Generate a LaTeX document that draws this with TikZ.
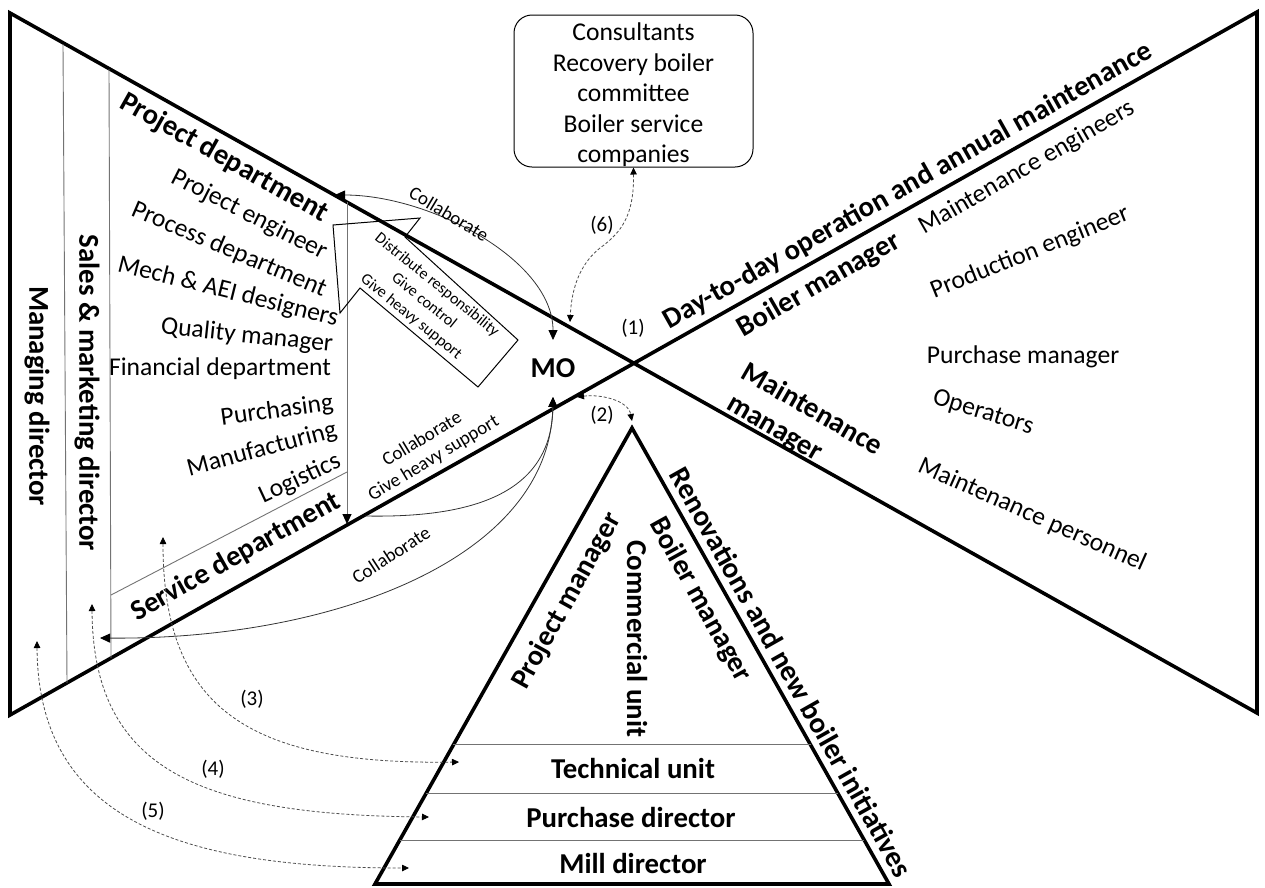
\documentclass[tikz,border=0pt]{standalone}
\usepackage{fontspec}
\setmainfont{Carlito}
\usetikzlibrary{arrows.meta,calc}
\newcommand\fsbold{\fontsize{28.8}{34}\selectfont\bfseries}
\newcommand\fsbig{\fontsize{29.3}{35}\selectfont\bfseries}
\newcommand\fsreg{\fontsize{25.6}{30.5}\selectfont}
\newcommand\fssmall{\fontsize{19}{22}\selectfont}
\newcommand\fstiny{\fontsize{16}{20.4}\selectfont}
\newcommand\fsnum{\fontsize{21}{25}\selectfont}
\begin{document}
\begin{tikzpicture}[x=1pt,y=-1pt,
  heavy/.style={line width=3.6pt, line join=miter},
  thinline/.style={line width=0.9pt, draw=black!55},
  link/.style={line width=0.8pt, draw=black!80},
  tip/.style={-{Triangle[length=10pt,width=9pt,color=black]}},
  dtip/.style={{Triangle[length=10pt,width=9pt,color=black]}-{Triangle[length=10pt,width=9pt,color=black]}},
  dashlink/.style={line width=0.8pt, draw=black!70, dash pattern=on 3pt off 2pt,
    {Triangle[length=7pt,width=6.5pt,color=black]}-{Triangle[length=7pt,width=6.5pt,color=black]}},
  lbl/.style={inner sep=0pt},
  head/.style={lbl, font=\fsbold},
  item/.style={lbl, font=\fsreg},
  note/.style={lbl, font=\fssmall},
  num/.style={lbl, font=\fsnum}]
\useasboundingbox (0,0) rectangle (1265,887);

% ---- bow-tie frame ----
\coordinate (TL) at (10,13);
\coordinate (BL) at (10,715);
\coordinate (TR) at (1257,12);
\coordinate (BR) at (1257,713);
\draw[heavy] (TR) -- (BL) -- (TL) -- (BR) -- cycle;

% ---- left columns ----
\draw[thinline] (63,44) -- (67,683);
\draw[thinline] (109,69) -- (111,658);
\draw[thinline] (111,595) -- (347,472);
\coordinate (pdA) at (347,202);
\coordinate (sdB) at (347,524);
\draw[thinline, tip] (pdA) -- (sdB);

\node[head, rotate=-90] (md) at (37,396) {Managing director};
\node[head, rotate=-90] (smd) at (87,393) {Sales \& marketing director};
\node[head, rotate=-29.3] (pd) at (224,158) {Project department};
\node[item, rotate=-27] (pe) at (249,215) {Project engineer};
\node[item, rotate=-23] (prd) at (229,250) {Process department};
\node[item, rotate=-14] (mech) at (228,292) {Mech \& AEI designers};
\node[item, rotate=-6] (qm) at (247,336) {Quality manager};
\node[item] (fin) at (220,369) {Financial department};
\node[item, rotate=8] (pur) at (277,411) {Purchasing};
\node[item, rotate=15] (man) at (262,450) {Manufacturing};
\node[item, rotate=25] (log) at (300,479) {Logistics};
\node[head, rotate=29.4] (sd) at (236,557) {Service department};

% ---- right side ----
\node[head, rotate=29.4] (dd) at (908,186) {Day-to-day operation and annual maintenance};
\node[head, rotate=30] (bm) at (819,285) {Boiler manager};
\node[head, rotate=-30] (mm1) at (813,408) {Maintenance};
\node[head, rotate=-30] (mm2) at (773,431) {manager};
\node[item, rotate=30] (me) at (1027,168) {Maintenance engineers};
\node[item, rotate=22] (pen) at (1030,253) {Production engineer};
\node[item] (pm) at (1023,357) {Purchase manager};
\node[item, rotate=-17] (op) at (983,413) {Operators};
\node[item, rotate=-24] (mp) at (1032,515) {Maintenance personnel};

% ---- centre ----
\node[head] (mo) at (553,368) {MO};
\node[num] (n1) at (633,328) {(1)};
\node[draw, line width=1pt, rounded corners=18pt, minimum width=239pt, minimum height=152pt,
  inner sep=0pt] (ext) at (633.5,91) {};
\node[lbl, align=center, font=\fsreg] (extxt) at (633.5,95)
  {Consultants\\Recovery boiler\\committee\\Boiler service\\companies};

% hollow block arrow with its duties
\draw[line width=1pt, line join=miter] (333,225) -- (420,218) -- (405,237) -- (518,340)
  -- (478,387) -- (360,288) -- (340,313) -- cycle;
\node[lbl, font=\fstiny, align=center, rotate=-39] (duty) at (424,301)
  {Distribute responsibility\\Give control\\Give heavy support};

% ---- triangle ----
\coordinate (apex) at (632,428);
\coordinate (tbl) at (375,884);
\coordinate (tbr) at (889,884);
\draw[heavy] (apex) -- (tbl) -- (tbr) -- cycle;
\draw[thinline] ($(apex)!0.695!(tbl)$) -- ($(apex)!0.695!(tbr)$);
\draw[thinline] ($(apex)!0.8004!(tbl)$) -- ($(apex)!0.8004!(tbr)$);
\draw[thinline] ($(apex)!0.9035!(tbl)$) -- ($(apex)!0.9035!(tbr)$);
\node[head] (tu) at (633,768) {Technical unit};
\node[head] (pdir) at (631,817) {Purchase director};
\node[head] (mdir) at (633,863) {Mill director};
\node[head, rotate=61] (prm) at (567,601) {Project manager};
\node[head, rotate=-90] (cu) at (637,639) {Commercial unit};
\node[head, rotate=-61] (tbm) at (700,600) {Boiler manager};
\node[lbl, font=\fsbig, rotate=-60.6] (ren) at (791,672) {Renovations and new boiler initiatives};

% ---- relations around MO ----
\coordinate (moN) at (553,340);
\coordinate (moS) at (553,397);
\coordinate (pdEnd) at (335,195);
\coordinate (sdEnd) at (365,516);
\coordinate (smEnd) at (100,638);
\draw[link, dtip] (moN) .. controls (553,260) and (430,195) .. (pdEnd);
\node[note, rotate=-31] (c1) at (449,214) {Collaborate};
\draw[link, tip] (sdEnd) .. controls (470,518) and (552,495) .. (moS);
\node[note, rotate=31, align=center] (c2) at (428,449) {Collaborate\\Give heavy support};
\draw[link, dtip] (moS) .. controls (550,560) and (330,640) .. (smEnd);
\node[note, rotate=33] (c3) at (391,555) {Collaborate};

% ---- dashed interfaces ----
\coordinate (l6) at (570,322);
\draw[dashlink] (ext.south) .. controls (634,215) and (622,232) .. (600,248)
  .. controls (585,260) and (572,280) .. (l6);
\node[num] (n6) at (602,225) {(6)};
\coordinate (l2) at (577,397);
\coordinate (a2) at (632,421);
\draw[dashlink] (l2) .. controls (600,394) and (628,400) .. (a2);
\node[num] (n2) at (602,415) {(2)};
\coordinate (s3) at (163,537);
\coordinate (t3) at (459,762);
\draw[dashlink] (s3) .. controls (163,710) and (250,765) .. (t3);
\node[num] (n3) at (252,699) {(3)};
\coordinate (s4) at (92,604);
\coordinate (t4) at (429,817);
\draw[dashlink] (s4) .. controls (93,770) and (200,815) .. (t4);
\node[num] (n4) at (213,769) {(4)};
\coordinate (s5) at (37,641);
\coordinate (t5) at (409,868);
\draw[dashlink] (s5) .. controls (38,820) and (180,868) .. (t5);
\node[num] (n5) at (153,811) {(5)};
\end{tikzpicture}
\end{document}
